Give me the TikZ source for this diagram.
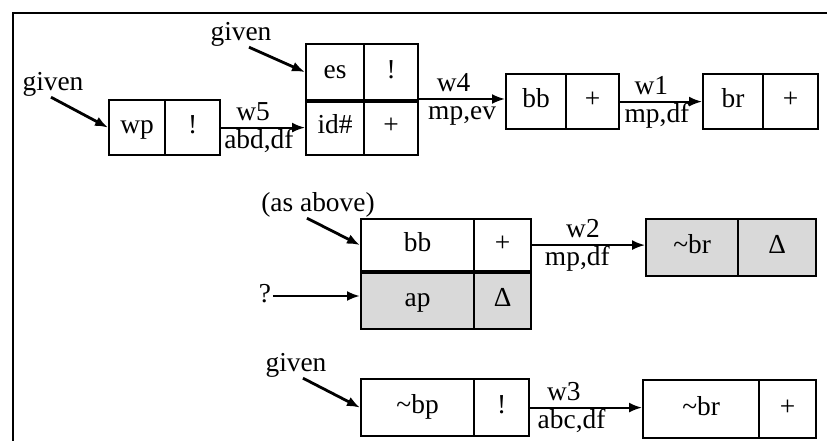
\documentclass[tikz,border=0pt]{standalone}
\usepackage{fontspec}
\setmainfont{Liberation Serif}
\usetikzlibrary{arrows.meta,calc}
\begin{document}
\begin{tikzpicture}[x=1bp,y=-1bp,
  txt/.style={font=\fontsize{27.5}{31}\selectfont},
  cell/.style={txt, draw, line width=2.2bp, inner sep=0pt, anchor=north west, text height=17bp, text depth=5bp},
  shaded/.style={fill=gray!30},
  lbl/.style={txt, inner sep=1.5bp, text height=18bp, text depth=5bp},
  conn/.style={line width=2bp, -{Latex[length=13bp,width=10bp]}},
  given/.style={line width=2.8bp, -{Latex[length=13bp,width=10bp]}},
]
\useasboundingbox (0,0) rectangle (827,441);
% frame
\draw[line width=2.8bp] (13,441) -- (13,13) -- (827,13);

% top row
\node[cell, minimum width=56bp, minimum height=55bp] (wp) at (108,99) {wp};
\node[cell, minimum width=55bp, minimum height=55bp] (wpx) at (164,99) {!};
\node[cell, minimum width=58bp, minimum height=56bp] (es) at (305,43) {es};
\node[cell, minimum width=54bp, minimum height=56bp] (esx) at (363,43) {!};
\node[cell, minimum width=58bp, minimum height=55bp] (id) at (305,99) {id\#};
\node[cell, minimum width=54bp, minimum height=55bp] (idx) at (363,99) {+};
\draw[line width=4.5bp] (es.south west) -- (esx.south east);
\node[cell, minimum width=60bp, minimum height=55bp] (bb1) at (505,73) {bb};
\node[cell, minimum width=53bp, minimum height=55bp] (bb1x) at (565,73) {+};
\node[cell, minimum width=60bp, minimum height=55bp] (br1) at (702,73) {br};
\node[cell, minimum width=55bp, minimum height=55bp] (br1x) at (762,73) {+};

\node[lbl] (given1) at (53,84) {given};
\node[lbl] (given2) at (241,34) {given};
\draw[given] ([xshift=-2bp]given1.south) -- (wp.west);
\draw[given] ([xshift=8bp]given2.south) -- (es.west);

\draw[conn] (wpx.east) -- node[lbl,above,pos=0.38]{w5} node[lbl,below,pos=0.45]{abd,df} (id.west);
\draw[conn] (idx.north east) -- node[lbl,above,pos=0.4]{w4} node[lbl,below,pos=0.5]{mp,ev} (idx.north east -| bb1.west);
\draw[conn] (bb1x.east) -- node[lbl,above,pos=0.38]{w1} node[lbl,below,pos=0.45]{mp,df} (br1.west);

% middle row
\node[cell, minimum width=113bp, minimum height=52bp] (bb2) at (360,218) {bb};
\node[cell, minimum width=57bp, minimum height=52bp] (bb2x) at (473,218) {+};
\node[cell, shaded, minimum width=113bp, minimum height=58bp] (ap) at (360,270) {ap};
\node[cell, shaded, minimum width=57bp, minimum height=58bp] (apx) at (473,270) {Δ};
\draw[line width=4.5bp] (bb2.south west) -- (bb2x.south east);
\node[cell, shaded, minimum width=92bp, minimum height=57bp] (nbr2) at (645,218) {\textasciitilde br};
\node[cell, shaded, minimum width=78bp, minimum height=57bp] (nbr2x) at (737,218) {Δ};

\node[lbl] (asabove) at (318,205) {(as above)};
\node[lbl] (q) at (265,296) {?};
\draw[given] ([xshift=-11bp]asabove.south) -- (bb2.west);
\draw[given] (q.east) -- (q.east -| ap.west);
\draw[conn] (bb2x.east) -- node[lbl,above,pos=0.45]{w2} node[lbl,below,pos=0.4]{mp,df} (bb2x.east -| nbr2.west);

% bottom row
\node[cell, minimum width=113bp, minimum height=57bp] (nbp) at (360,378) {\textasciitilde bp};
\node[cell, minimum width=55bp, minimum height=57bp] (nbpx) at (473,378) {!};
\node[cell, minimum width=116bp, minimum height=58bp] (nbr3) at (642,379) {\textasciitilde br};
\node[cell, minimum width=57bp, minimum height=58bp] (nbr3x) at (758,379) {+};

\node[lbl] (given3) at (296,365) {given};
\draw[given] ([xshift=7bp]given3.south) -- (nbp.west);
\draw[conn] (nbpx.east) -- node[lbl,above,pos=0.3]{w3} node[lbl,below,pos=0.37]{abc,df} (nbpx.east -| nbr3.west);
\end{tikzpicture}
\end{document}
